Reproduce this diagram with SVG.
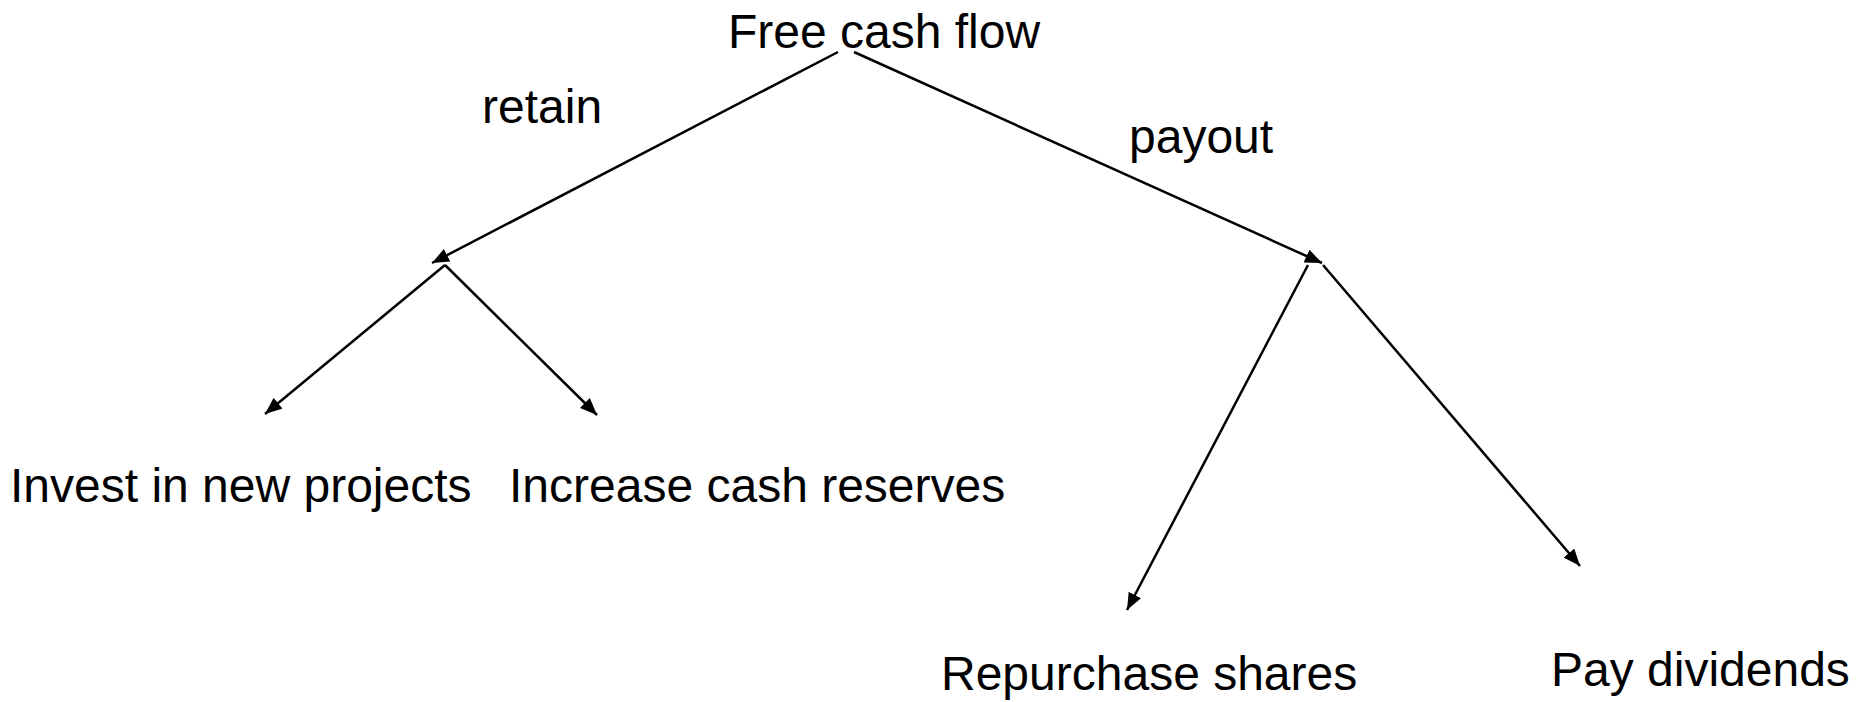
<svg xmlns="http://www.w3.org/2000/svg" width="1859" height="702" viewBox="0 0 1859 702">
<style>
text{font-family:"Liberation Sans",Arial,sans-serif;font-size:48px;fill:#000}
.c line{stroke:#000;stroke-width:2.5;marker-end:url(#ah)}
</style>
<defs>
<marker id="ah" markerUnits="userSpaceOnUse" markerWidth="18" markerHeight="14" refX="17" refY="7" orient="auto"><path d="M0,0 L17,7 L0,14 z" fill="#000"/></marker>
</defs>
<rect width="1859" height="702" fill="#fff"/>
<g class="c" id="connectors">
<line x1="838" y1="52" x2="432" y2="263"/>
<line x1="854" y1="52" x2="1322" y2="263"/>
<line x1="445" y1="265" x2="265" y2="414"/>
<line x1="445" y1="265" x2="597" y2="415"/>
<line x1="1308" y1="265" x2="1127" y2="610"/>
<line x1="1323" y1="265" x2="1580" y2="566"/>
</g>
<g id="free-cash-flow"><text x="728" y="48">Free cash flow</text></g>
<g id="retain"><text x="482" y="123">retain</text></g>
<g id="payout"><text x="1129" y="153">payout</text></g>
<g id="invest"><text x="10" y="502">Invest in new projects</text></g>
<g id="increase"><text x="509" y="502">Increase cash reserves</text></g>
<g id="repurchase"><text x="941" y="690">Repurchase shares</text></g>
<g id="dividends"><text x="1551" y="686">Pay dividends</text></g>
</svg>
